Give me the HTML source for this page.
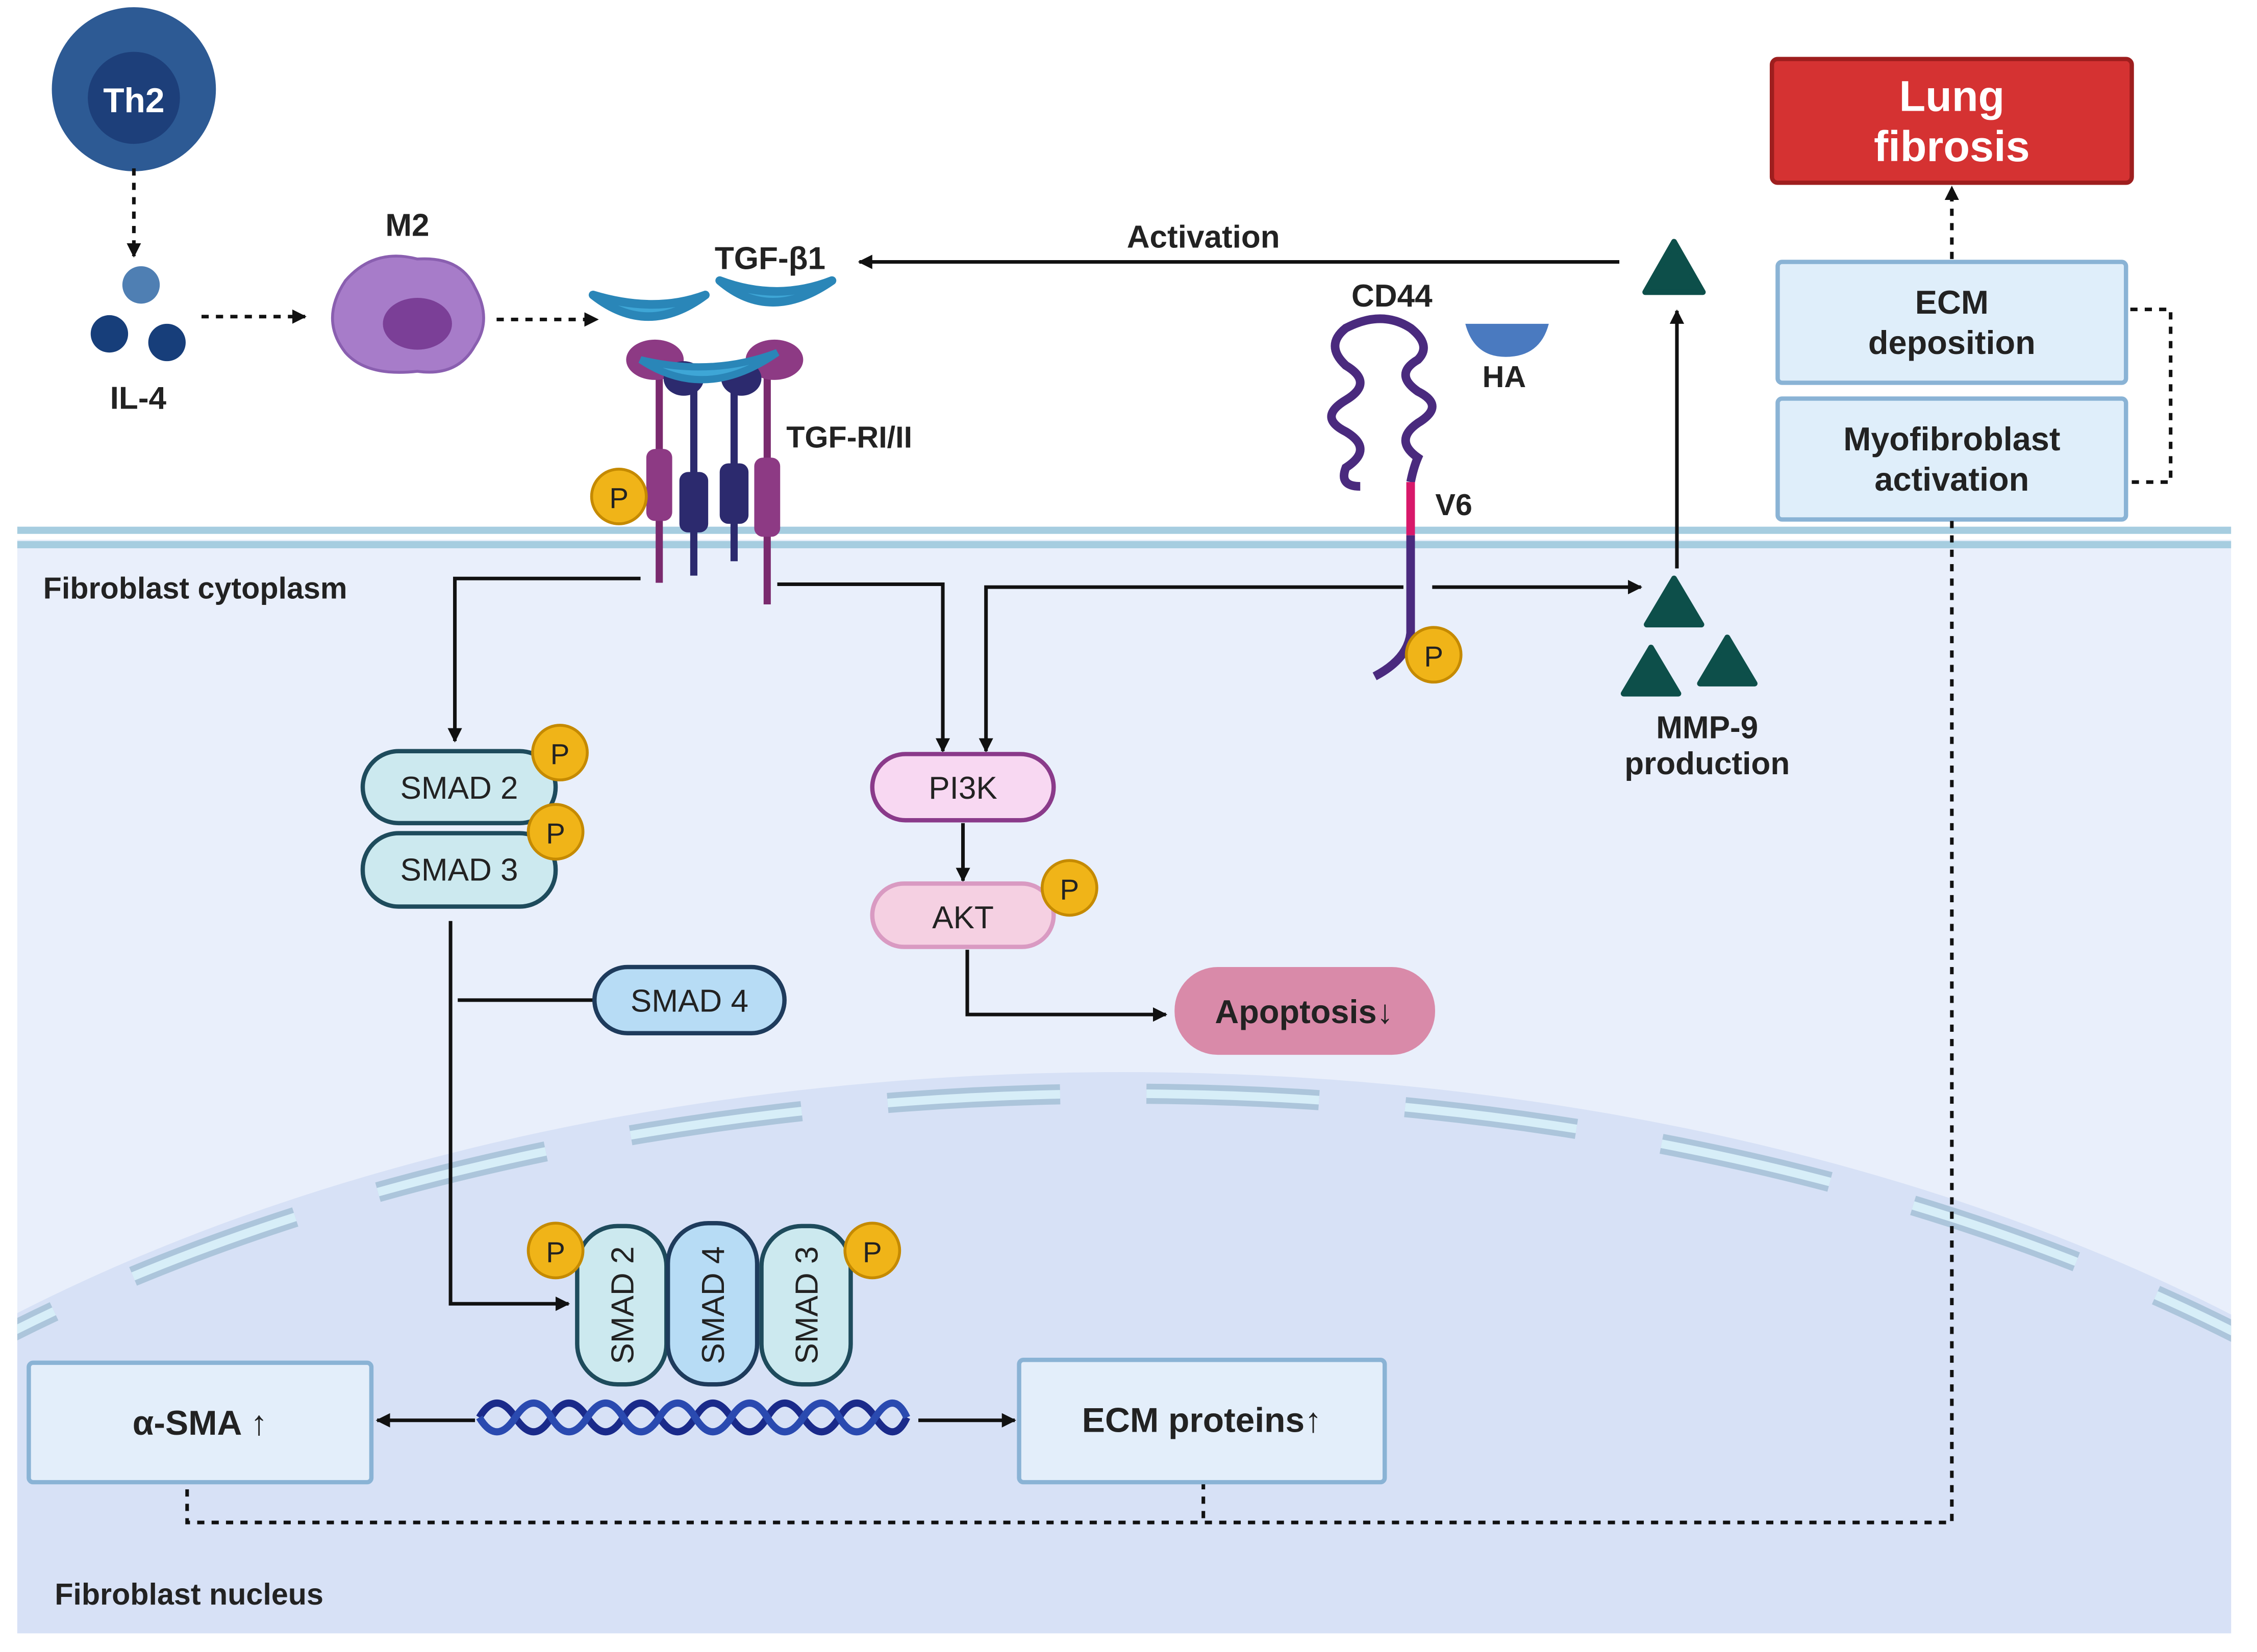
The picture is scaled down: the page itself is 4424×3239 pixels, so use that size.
<!DOCTYPE html>
<html><head><meta charset="utf-8"><style>
html,body{margin:0;padding:0;background:#fff;width:4424px;height:3239px;overflow:hidden;}
svg{display:block;}
text{font-family:"Liberation Sans",sans-serif;}
</style></head><body>
<svg width="4424" height="3239" viewBox="0 0 1568 1148" preserveAspectRatio="none" xmlns="http://www.w3.org/2000/svg">
<defs>
<marker id="ah" markerWidth="10" markerHeight="10" refX="9" refY="5" orient="auto" markerUnits="userSpaceOnUse"><path d="M0,0 L10,5 L0,10 z" fill="#111"/></marker>
<clipPath id="cl"><rect x="12" y="375" width="1538" height="760"/></clipPath>
</defs>
<rect width="1568" height="1148" fill="#fff"/>
<rect x="12" y="375" width="1538" height="760" fill="#e9effb"/>
<g clip-path="url(#cl)">
<ellipse cx="780" cy="1400" rx="1150" ry="655" fill="#d7e1f6"/>
<ellipse cx="780" cy="1400" rx="1150" ry="640" fill="none" stroke="#5d91aa" stroke-width="14" stroke-dasharray="120 60" opacity="0.35"/>
<ellipse cx="780" cy="1400" rx="1150" ry="640" fill="none" stroke="#d7eef8" stroke-width="6" stroke-dasharray="120 60"/>
</g>
<rect x="12" y="366" width="1538" height="5" fill="#a6cde0"/>
<rect x="12" y="376" width="1538" height="5" fill="#a6cde0"/>
<text x="30" y="416" font-size="21" font-weight="bold" fill="#222">Fibroblast cytoplasm</text>
<text x="38" y="1115" font-size="21" font-weight="bold" fill="#222">Fibroblast nucleus</text>

<circle cx="93" cy="62" r="57" fill="#2d5a94"/>
<circle cx="93" cy="68" r="32" fill="#1d3f7a"/>
<text x="93" y="78" font-size="24" font-weight="bold" fill="#fff" text-anchor="middle">Th2</text>
<line x1="93" y1="117" x2="93" y2="178" stroke="#111" stroke-width="2.5" stroke-dasharray="5 5" marker-end="url(#ah)"/>
<circle cx="98" cy="198" r="13" fill="#4f7fb3"/>
<circle cx="76" cy="232" r="13" fill="#173e7a"/>
<circle cx="116" cy="238" r="13" fill="#173e7a"/>
<text x="96" y="284" font-size="22" font-weight="bold" fill="#222" text-anchor="middle">IL-4</text>
<line x1="140" y1="220" x2="212" y2="220" stroke="#111" stroke-width="2.5" stroke-dasharray="5 5" marker-end="url(#ah)"/>
<path d="M240,195 Q260,172 290,180 Q320,178 330,200 Q342,222 330,240 Q318,262 290,258 Q255,262 240,245 Q222,222 240,195z" fill="#a77cc9" stroke="#8a5fb0" stroke-width="2"/>
<ellipse cx="290" cy="225" rx="24" ry="18" fill="#7b3f97"/>
<text x="283" y="164" font-size="22" font-weight="bold" fill="#222" text-anchor="middle">M2</text>
<line x1="345" y1="222" x2="415" y2="222" stroke="#111" stroke-width="2.5" stroke-dasharray="5 5" marker-end="url(#ah)"/>

<text x="535" y="187" font-size="22" font-weight="bold" fill="#222" text-anchor="middle">TGF-β1</text>
<path d="M412,205 Q450,235 490,205 Q455,218 412,205z" fill="#3ea6d6" stroke="#2a86b8" stroke-width="6" stroke-linejoin="round"/>
<path d="M500,195 Q535,225 578,195 Q540,210 500,195z" fill="#3ea6d6" stroke="#2a86b8" stroke-width="6" stroke-linejoin="round"/>
<g stroke-width="5" fill="none">
<line x1="458" y1="260" x2="458" y2="405" stroke="#7a2a6e"/>
<line x1="482" y1="270" x2="482" y2="400" stroke="#2c2a6e"/>
<line x1="510" y1="270" x2="510" y2="390" stroke="#2c2a6e"/>
<line x1="533" y1="260" x2="533" y2="420" stroke="#7a2a6e"/>
</g>
<ellipse cx="455" cy="250" rx="20" ry="14" fill="#8d3a84"/>
<ellipse cx="538" cy="250" rx="20" ry="14" fill="#8d3a84"/>
<ellipse cx="475" cy="263" rx="14" ry="12" fill="#2c2a6e"/>
<ellipse cx="515" cy="263" rx="14" ry="12" fill="#2c2a6e"/>
<path d="M445,250 Q490,280 540,245 Q495,262 445,250z" fill="#3ea6d6" stroke="#2a86b8" stroke-width="5"/>
<rect x="449" y="312" width="18" height="50" rx="6" fill="#8d3a84"/>
<rect x="524" y="318" width="18" height="55" rx="6" fill="#8d3a84"/>
<rect x="472" y="328" width="20" height="42" rx="6" fill="#2c2a6e"/>
<rect x="500" y="322" width="20" height="42" rx="6" fill="#2c2a6e"/>
<text x="590" y="311" font-size="21" font-weight="bold" fill="#222" text-anchor="middle">TGF-RI/II</text>
<circle cx="430" cy="345" r="19" fill="#f0b418" stroke="#c58a00" stroke-width="2"/>
<text x="430" y="353" font-size="20" fill="#222" text-anchor="middle">P</text>

<line x1="1125" y1="182" x2="597" y2="182" stroke="#111" stroke-width="2.5" marker-end="url(#ah)"/>
<text x="836" y="172" font-size="22" font-weight="bold" fill="#222" text-anchor="middle">Activation</text>
<polygon points="1163,168 1183,203 1143,203" fill="#0d4f4a" stroke="#0d4f4a" stroke-width="4" stroke-linejoin="round"/>
<line x1="1165" y1="395" x2="1165" y2="216" stroke="#111" stroke-width="2.5" marker-end="url(#ah)"/>

<text x="967" y="213" font-size="22" font-weight="bold" fill="#222" text-anchor="middle">CD44</text>
<path d="M945,338 Q930,338 935,325 Q955,312 935,300 Q915,290 935,278 Q955,266 935,254 Q920,240 935,228 Q960,215 980,228 Q995,240 985,250 Q968,260 985,272 Q1005,282 985,294 Q968,306 985,318 Q982,325 980,335" fill="none" stroke="#4a2a7e" stroke-width="6"/>
<path d="M1018,225 L1076,225 Q1070,248 1046,248 Q1024,248 1018,225z" fill="#4a7ac0"/>
<text x="1045" y="269" font-size="21" font-weight="bold" fill="#222" text-anchor="middle">HA</text>
<line x1="980" y1="335" x2="980" y2="372" stroke="#d8186a" stroke-width="6"/>
<path d="M980,372 L980,440 Q978,458 955,470" fill="none" stroke="#4a2a7e" stroke-width="6"/>
<text x="1010" y="358" font-size="21" font-weight="bold" fill="#222" text-anchor="middle">V6</text>
<circle cx="996" cy="455" r="19" fill="#f0b418" stroke="#c58a00" stroke-width="2"/>
<text x="996" y="463" font-size="20" fill="#222" text-anchor="middle">P</text>
<line x1="995" y1="408" x2="1140" y2="408" stroke="#111" stroke-width="2.5" marker-end="url(#ah)"/>
<polyline points="975,408 685,408 685,522" fill="none" stroke="#111" stroke-width="2.5" marker-end="url(#ah)"/>
<polyline points="540,406 655,406 655,522" fill="none" stroke="#111" stroke-width="2.5" marker-end="url(#ah)"/>
<polygon points="1163,402 1182,434 1144,434" fill="#0d4f4a" stroke="#0d4f4a" stroke-width="4" stroke-linejoin="round"/>
<polygon points="1147,450 1166,482 1128,482" fill="#0d4f4a" stroke="#0d4f4a" stroke-width="4" stroke-linejoin="round"/>
<polygon points="1200,443 1219,475 1181,475" fill="#0d4f4a" stroke="#0d4f4a" stroke-width="4" stroke-linejoin="round"/>
<text x="1186" y="513" font-size="22" font-weight="bold" fill="#222" text-anchor="middle">MMP-9</text>
<text x="1186" y="538" font-size="22" font-weight="bold" fill="#222" text-anchor="middle">production</text>

<polyline points="445,402 316,402 316,515" fill="none" stroke="#111" stroke-width="2.5" marker-end="url(#ah)"/>
<rect x="252" y="522" width="134" height="50" rx="25" fill="#cce9ef" stroke="#1e4b5c" stroke-width="3"/>
<text x="319" y="555" font-size="22" fill="#222" text-anchor="middle">SMAD 2</text>
<rect x="252" y="579" width="134" height="51" rx="25" fill="#cce9ef" stroke="#1e4b5c" stroke-width="3"/>
<text x="319" y="612" font-size="22" fill="#222" text-anchor="middle">SMAD 3</text>
<circle cx="389" cy="523" r="19" fill="#f0b418" stroke="#c58a00" stroke-width="2"/>
<text x="389" y="531" font-size="20" fill="#222" text-anchor="middle">P</text>
<circle cx="386" cy="578" r="19" fill="#f0b418" stroke="#c58a00" stroke-width="2"/>
<text x="386" y="586" font-size="20" fill="#222" text-anchor="middle">P</text>
<polyline points="313,640 313,906 395,906" fill="none" stroke="#111" stroke-width="2.5" marker-end="url(#ah)"/>
<line x1="318" y1="695" x2="413" y2="695" stroke="#111" stroke-width="2.5"/>
<rect x="413" y="672" width="132" height="46" rx="23" fill="#b7dcf5" stroke="#1e3b5c" stroke-width="3"/>
<text x="479" y="703" font-size="22" fill="#222" text-anchor="middle">SMAD 4</text>

<rect x="606" y="524" width="126" height="46" rx="23" fill="#f8d8f2" stroke="#8a3a8a" stroke-width="3"/>
<text x="669" y="555" font-size="22" fill="#222" text-anchor="middle">PI3K</text>
<line x1="669" y1="572" x2="669" y2="612" stroke="#111" stroke-width="2.5" marker-end="url(#ah)"/>
<rect x="606" y="614" width="126" height="44" rx="22" fill="#f5d0e2" stroke="#d99ac2" stroke-width="3"/>
<text x="669" y="645" font-size="22" fill="#222" text-anchor="middle">AKT</text>
<circle cx="743" cy="617" r="19" fill="#f0b418" stroke="#c58a00" stroke-width="2"/>
<text x="743" y="625" font-size="20" fill="#222" text-anchor="middle">P</text>
<polyline points="672,660 672,705 810,705" fill="none" stroke="#111" stroke-width="2.5" marker-end="url(#ah)"/>
<rect x="816" y="672" width="181" height="61" rx="30" fill="#d98aa9"/>
<text x="906" y="711" font-size="23" font-weight="bold" fill="#222" text-anchor="middle">Apoptosis↓</text>

<rect x="1231" y="41" width="250" height="86" rx="4" fill="#d53232" stroke="#9e1e1e" stroke-width="3"/>
<text x="1356" y="77" font-size="30" font-weight="bold" fill="#fff" text-anchor="middle">Lung</text>
<text x="1356" y="112" font-size="30" font-weight="bold" fill="#fff" text-anchor="middle">fibrosis</text>
<line x1="1356" y1="180" x2="1356" y2="130" stroke="#111" stroke-width="2.5" stroke-dasharray="5 5" marker-end="url(#ah)"/>
<rect x="1235" y="182" width="242" height="84" rx="3" fill="#dfeefa" stroke="#8ab3d5" stroke-width="3"/>
<text x="1356" y="218" font-size="23" font-weight="bold" fill="#222" text-anchor="middle">ECM</text>
<text x="1356" y="246" font-size="23" font-weight="bold" fill="#222" text-anchor="middle">deposition</text>
<rect x="1235" y="277" width="242" height="84" rx="3" fill="#dfeefa" stroke="#8ab3d5" stroke-width="3"/>
<text x="1356" y="313" font-size="23" font-weight="bold" fill="#222" text-anchor="middle">Myofibroblast</text>
<text x="1356" y="341" font-size="23" font-weight="bold" fill="#222" text-anchor="middle">activation</text>
<polyline points="1480,215 1508,215 1508,335 1480,335" fill="none" stroke="#111" stroke-width="2.5" stroke-dasharray="5 5"/>
<polyline points="1356,362 1356,1058 130,1058 130,1030" fill="none" stroke="#111" stroke-width="2.5" stroke-dasharray="5 5"/>
<line x1="836" y1="1030" x2="836" y2="1058" stroke="#111" stroke-width="2.5" stroke-dasharray="5 5"/>

<rect x="401" y="852" width="62" height="110" rx="28" fill="#cce9ef" stroke="#1e4b5c" stroke-width="3"/>
<rect x="464" y="850" width="62" height="112" rx="28" fill="#b7dcf5" stroke="#1e3b5c" stroke-width="3"/>
<rect x="529" y="852" width="62" height="110" rx="28" fill="#cce9ef" stroke="#1e4b5c" stroke-width="3"/>
<text transform="translate(440,907) rotate(-90)" font-size="22" fill="#222" text-anchor="middle">SMAD 2</text>
<text transform="translate(503,907) rotate(-90)" font-size="22" fill="#222" text-anchor="middle">SMAD 4</text>
<text transform="translate(568,907) rotate(-90)" font-size="22" fill="#222" text-anchor="middle">SMAD 3</text>
<circle cx="386" cy="869" r="19" fill="#f0b418" stroke="#c58a00" stroke-width="2"/>
<text x="386" y="877" font-size="20" fill="#222" text-anchor="middle">P</text>
<circle cx="606" cy="869" r="19" fill="#f0b418" stroke="#c58a00" stroke-width="2"/>
<text x="606" y="877" font-size="20" fill="#222" text-anchor="middle">P</text>

<path d="M333,985 Q345,965 358,985 T383,985 T408,985 T433,985 T458,985 T483,985 T508,985 T533,985 T558,985 T583,985 T608,985 T630,985" fill="none" stroke="#1a2a8a" stroke-width="5"/>
<path d="M333,985 Q345,1005 358,985 T383,985 T408,985 T433,985 T458,985 T483,985 T508,985 T533,985 T558,985 T583,985 T608,985 T630,985" fill="none" stroke="#2a4ab0" stroke-width="5"/>
<line x1="330" y1="987" x2="262" y2="987" stroke="#111" stroke-width="2.5" marker-end="url(#ah)"/>
<line x1="638" y1="987" x2="705" y2="987" stroke="#111" stroke-width="2.5" marker-end="url(#ah)"/>
<rect x="20" y="947" width="238" height="83" rx="3" fill="#e3eefa" stroke="#8ab3d5" stroke-width="3"/>
<text x="139" y="997" font-size="24" font-weight="bold" fill="#222" text-anchor="middle">α-SMA ↑</text>
<rect x="708" y="945" width="254" height="85" rx="3" fill="#e3eefa" stroke="#8ab3d5" stroke-width="3"/>
<text x="835" y="995" font-size="24" font-weight="bold" fill="#222" text-anchor="middle">ECM proteins↑</text>
</svg>
</body></html>
